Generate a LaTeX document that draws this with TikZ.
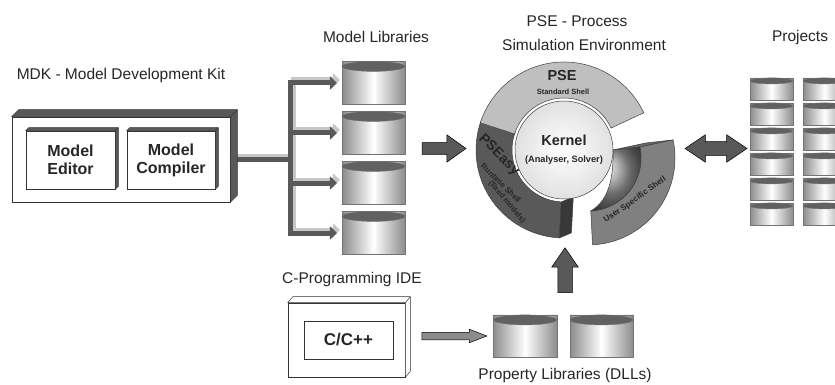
\documentclass[tikz,border=0pt]{standalone}
\usepackage{fontspec}
\setmainfont{Liberation Sans}
\usetikzlibrary{shapes.geometric,shapes.arrows,arrows.meta,calc}

% top and right face of a box drawn as a node
\newcommand\boxsides[4]{%
  \filldraw[fill=#4,draw=black!80,line width=0.5pt]
    (#1.north west) -- ++(#2,#3) -- ([shift={(#2,#3)}]#1.north east)
    -- ([shift={(#2,#3)}]#1.south east) -- (#1.south east)
    -- (#1.north east) -- cycle;
  \draw[black!80,line width=0.5pt] (#1.north east) -- ++(#2,#3);
}
% dark lid of a drum node
\newcommand\drumlid[3]{%
  \filldraw[drumtop] ([shift={(0,#3)}]#1.top) ellipse[x radius=#2, y radius=#3];
}

\begin{document}
\begin{tikzpicture}[x=1pt,y=-1pt,font=\fontsize{15.5}{18}\selectfont,text=black!85,
    heading/.style={inner sep=0pt},
    panel/.style={rectangle,draw=black!80,fill=white,line width=0.6pt,inner sep=0pt,
        align=center,font=\fontsize{16}{18}\selectfont\bfseries},
    drum/.style={cylinder,shape border rotate=90,aspect=0.64,draw=black!55,line width=0.4pt,
        inner sep=0pt,outer sep=0pt,left color=black!45,right color=black!45,middle color=white},
    drumtop/.style={fill=black!62,draw=black!55,line width=0.4pt},
    bus/.style={line width=5pt,draw=black!65,-{Triangle[length=7pt,width=13pt]},shorten >=5pt},
    busshade/.style={bus,draw=black!22},
    block/.style={single arrow,draw=black,line width=0.5pt,fill=black!65,outer sep=0pt},
    twoway/.style={double arrow,draw=black,line width=0.5pt,fill=black!65,outer sep=0pt},
    shell/.style={draw=black!75,line width=0.5pt},
    shelltext/.style={inner sep=0pt,font=\fontsize{7.8}{9}\selectfont\bfseries}]

    \useasboundingbox (0,0) rectangle (835,385);

    \node[heading] (mdktitle) at (121,75) {MDK - Model Development Kit};
    \node[heading] (libtitle) at (376,37) {Model Libraries};
    \node[heading] (psetitle) at (577,21) {PSE - Process};
    \node[heading] (psetitle2) at (584,45) {Simulation Environment};
    \node[heading] (projtitle) at (800,37) {Projects};
    \node[heading] (idetitle) at (352,279) {C-Programming IDE};
    \node[heading] (proptitle) at (565,375) {Property Libraries (DLLs)};

    \node[panel, minimum width=218, minimum height=85] (mdk) at (121,159.5) {};
    \node[panel, minimum width=117, minimum height=74] (ide) at (346.5,340) {};

    \foreach \n/\y in {1/83,2/133,3/183,4/233}
        \node[drum, minimum width=63, minimum height=43] (lib\n) at (373.5,\y) {};
    \node[drum, minimum width=64, minimum height=42] (prop1) at (525,336) {};
    \node[drum, minimum width=63, minimum height=42] (prop2) at (601.5,336) {};
    \foreach \r/\y in {1/89,2/114,3/139,4/164,5/189,6/214}
    {
        \node[drum, aspect=0.56, minimum width=43, minimum height=22] (proj\r a) at (771.5,\y) {};
        \node[drum, aspect=0.56, minimum width=43, minimum height=22] (proj\r b) at (824.5,\y) {};
    }
    \foreach \n in {lib1,lib2,lib3,lib4,prop1,prop2} \drumlid{\n}{31.5}{5};
    \foreach \r in {1,...,6} {\drumlid{proj\r a}{21.5}{3} \drumlid{proj\r b}{21.5}{3}}

    \coordinate (hub) at (290,0);
    \foreach \n in {1,...,4}
        \draw[busshade, transform canvas={xshift=3pt,yshift=3pt}]
            (mdk.east) -- (mdk.east -| hub) |- (lib\n.west);
    \foreach \n in {1,...,4}
        \draw[bus] (mdk.east) -- (mdk.east -| hub) |- (lib\n.west);

    \boxsides{mdk}{7}{-7}{black!65}
    \boxsides{ide}{5}{-6}{white}

    \node[panel, minimum width=89, minimum height=58] (editor) at (70.5,160) {Model\\Editor};
    \node[panel, minimum width=88, minimum height=58] (compiler) at (171,160) {Model\\Compiler};
    \boxsides{editor}{3}{-3}{black!65}
    \boxsides{compiler}{3}{-3}{black!65}
    \node[panel, minimum width=89, minimum height=38, font=\fontsize{17}{20}\selectfont\bfseries]
        (cpp) at (348.5,340) {C/C++};

    % shells round the kernel
    \begin{scope}[shift={(564,150)},yscale=-1]
        \filldraw[shell, fill=black!65] (160:52) arc[start angle=160, end angle=267, radius=52]
            -- (267:88) arc[start angle=267, end angle=160, radius=88] -- cycle;
        \filldraw[shell, fill=black!78] (267:52) -- (267:88) -- ++(12,5) -- ($(267:52)+(12,5)$) -- cycle;
        \begin{scope}[shift={(24,-8)}]
            \filldraw[shell, fill=black!60] (25,8) -- (12:53) -- (12:87) -- ++(-27,-3) -- cycle;
            \filldraw[shell, fill=black!50] (12:53) arc[start angle=12, end angle=-87, radius=53]
                -- (-87:87) arc[start angle=-87, end angle=12, radius=87] -- cycle;
            \shade[shell, ball color=black!40] (12:53) arc[start angle=12, end angle=-87, radius=53]
                .. controls (17,-45) and (26,-27) .. (25,8) -- cycle;
        \end{scope}
        \filldraw[shell, fill=black!25] (25:52) arc[start angle=25, end angle=162, radius=52]
            -- (162:88) arc[start angle=162, end angle=25, radius=88] -- cycle;
    \end{scope}

    \node[circle, draw=black!75, line width=0.5pt, minimum size=98, inner sep=0pt,
        inner color=white, outer color=black!12, align=center] (kernel) at (564,150)
        {\fontsize{14.5}{17}\selectfont\bfseries Kernel\\[-1pt]
         \fontsize{9.2}{11}\selectfont\bfseries (Analyser, Solver)};

    \node[font=\fontsize{14.5}{16}\selectfont\bfseries] (pse) at (562,76) {PSE};
    \node[font=\fontsize{7.5}{9}\selectfont\bfseries] (std) at (563,92) {Standard Shell};
    \node[rotate=-45, inner sep=0pt, font=\fontsize{14}{16}\selectfont\bfseries] (easy) at (499,155) {PSEasy};
    \node[shelltext, rotate=-44] (run) at (501,183) {Runtime Shell};
    \node[shelltext, rotate=-50] (fixed) at (507,202) {(fixed models)};
    \node[shelltext, rotate=35, font=\fontsize{8.2}{9}\selectfont\bfseries] (user) at (635,200) {User Specific Shell};

    \node[block, inner sep=5.5pt, minimum height=44, single arrow head extend=8,
        single arrow tip angle=71] (feed) at (440,148.5) {};
    \node[twoway, inner sep=6.5pt, minimum height=62, double arrow head extend=7,
        double arrow tip angle=68] (sync) at (716,148.5) {};
    \node[block, shape border rotate=90, inner sep=7pt, minimum height=45,
        single arrow head extend=6, single arrow tip angle=69] (up) at (565,275.5) {};
    \node[block, fill=black!45, inner sep=3.5pt, minimum height=65,
        single arrow head extend=3, single arrow tip angle=42] (build) at (449.5,336) {};
\end{tikzpicture}
\end{document}
